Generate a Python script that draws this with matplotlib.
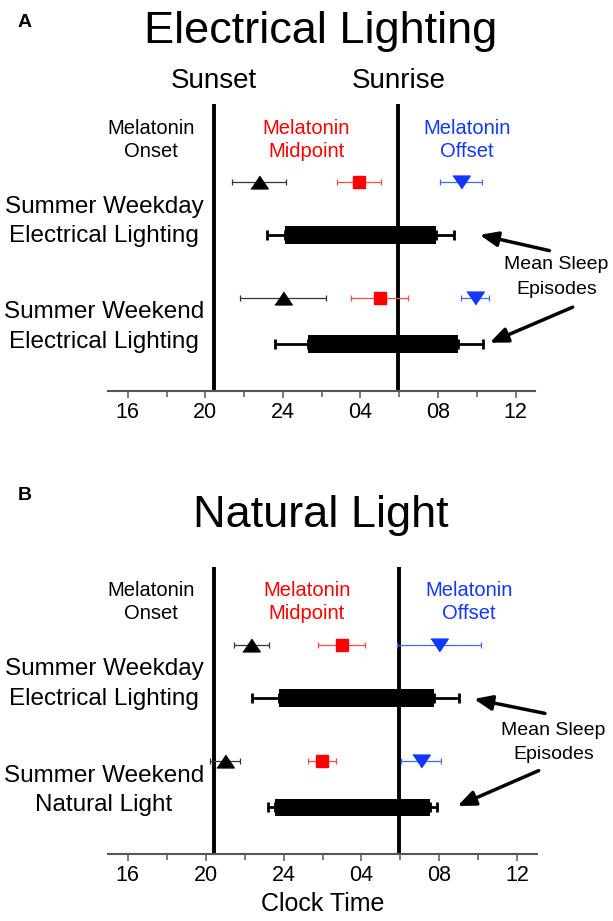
import numpy as np
import matplotlib
matplotlib.use("Agg")
import matplotlib.pyplot as plt
from matplotlib.transforms import blended_transform_factory

plt.rcParams['font.family'] = ['Liberation Sans', 'DejaVu Sans']

# clock hours, 24 = midnight, 28 = 04:00 ...
sunset = 20.45
sunrise = 29.95

tick_hours = [16, 20, 24, 28, 32, 36]
tick_labels = ['16', '20', '24', '04', '08', '12']

# panel A: electrical lighting (weekday, weekend)
onset_A = [22.76, 24.01]
onset_err_A = [1.40, 2.20]
mid_A = [27.93, 28.99]
mid_err_A = [1.13, 1.47]
offset_A = [33.17, 33.89]
offset_err_A = [1.09, 0.72]
sleep_on_A = [24.13, 25.30]
sleep_on_err_A = [0.94, 1.73]
sleep_off_A = [31.92, 33.05]
sleep_off_err_A = [0.90, 1.27]
rows_A = ['Summer Weekday\nElectrical Lighting', 'Summer Weekend\nElectrical Lighting']

# panel B: natural light
onset_B = [22.33, 20.98]
onset_err_B = [0.90, 0.77]
mid_B = [26.98, 25.97]
mid_err_B = [1.20, 0.74]
offset_B = [31.98, 31.06]
offset_err_B = [2.18, 1.04]
sleep_on_B = [23.76, 23.57]
sleep_on_err_B = [1.40, 0.38]
sleep_off_B = [31.70, 31.52]
sleep_off_err_B = [1.30, 0.38]
rows_B = ['Summer Weekday\nElectrical Lighting', 'Summer Weekend\nNatural Light']

# layout (axes fraction)
marker_y = [0.727, 0.323]
bar_y = [0.543, 0.163]
label_y = [0.592, 0.223]

up_tri = [(-1, -0.74), (1, -0.74), (0, 0.74)]
down_tri = [(-1, 0.74), (1, 0.74), (0, -0.74)]


def panel(ax, onset, onset_err, mid, mid_err, offset, offset_err,
          s_on, s_on_err, s_off, s_off_err, rows, arrows, note_xy, note_ls):
    ax.set_xlim(15, 37)
    ax.set_ylim(0, 1)
    for s in ['top', 'left', 'right']:
        ax.spines[s].set_visible(False)
    ax.spines['bottom'].set_color('#555555')
    ax.spines['bottom'].set_linewidth(1.5)
    ax.set_yticks([])
    ax.set_xticks(tick_hours)
    ax.set_xticklabels(tick_labels, fontsize=15.5)
    ax.set_xticks(np.arange(18, 37, 4), minor=True)
    ax.tick_params(axis='x', which='major', length=5, width=1.1, color='#555555', pad=3)
    ax.tick_params(axis='x', which='minor', length=4, width=1.1, color='#555555')

    ax.axvline(sunset, color='black', lw=2.8, zorder=1)
    ax.axvline(sunrise, color='black', lw=2.8, zorder=1)

    ax.errorbar(onset, marker_y, xerr=onset_err, fmt='none', ecolor='#333333',
                elinewidth=0.9, capsize=2.4, capthick=0.9, zorder=3)
    ax.plot(onset, marker_y, ls='none', marker=up_tri, ms=12.5, color='black', zorder=4)
    ax.errorbar(mid, marker_y, xerr=mid_err, fmt='none', ecolor='#ff4a4a',
                elinewidth=0.9, capsize=2.4, capthick=0.9, zorder=3)
    ax.plot(mid, marker_y, ls='none', marker='s', ms=8.6, color='#ff0000', zorder=4)
    ax.errorbar(offset, marker_y, xerr=offset_err, fmt='none', ecolor='#3f6bff',
                elinewidth=0.9, capsize=2.4, capthick=0.9, zorder=3)
    ax.plot(offset, marker_y, ls='none', marker=down_tri, ms=12.5, color='#1238ff', zorder=4)

    s_on = np.array(s_on)
    s_off = np.array(s_off)
    ax.errorbar(s_on, bar_y, xerr=[s_on_err, np.zeros(2)], fmt='none', ecolor='black',
                elinewidth=2, capsize=3.4, capthick=2, zorder=2)
    ax.errorbar(s_off, bar_y, xerr=[np.zeros(2), s_off_err], fmt='none', ecolor='black',
                elinewidth=2, capsize=3.4, capthick=2, zorder=2)
    ax.barh(bar_y, s_off - s_on, left=s_on, height=0.061, color='black', zorder=3)

    for y, txt in zip(label_y, rows):
        ax.text(14.78, y, txt, ha='center', va='center', fontsize=17.5, linespacing=1.42)

    ax.text(17.2, 0.876, 'Melatonin\nOnset', ha='center', va='center', fontsize=14.5,
            linespacing=1.26, color='black')
    ax.text(25.2, 0.876, 'Melatonin\nMidpoint', ha='center', va='center', fontsize=14.5,
            linespacing=1.26, color='#ff0000')
    ax.text(33.5, 0.876, 'Melatonin\nOffset', ha='center', va='center', fontsize=14.5,
            linespacing=1.26, color='#1238ff')

    ax.text(note_xy[0], note_xy[1], 'Mean Sleep\nEpisodes', ha='center', va='center',
            fontsize=14, linespacing=note_ls)
    for tail, tip in arrows:
        ax.annotate('', xy=tip, xytext=tail, annotation_clip=False,
                    arrowprops=dict(arrowstyle='-|>,head_length=0.6,head_width=0.25',
                                    mutation_scale=18, lw=2.5, color='black',
                                    shrinkA=0, shrinkB=0))


fig = plt.figure(figsize=(6.13, 9.21), dpi=100)
axA = fig.add_axes([0.1767, 0.5755, 0.6961, 0.3116])
axB = fig.add_axes([0.1767, 0.0724, 0.6989, 0.3123])

panel(axA, onset_A, onset_err_A, mid_A, mid_err_A, offset_A, offset_err_A,
      sleep_on_A, sleep_on_err_A, sleep_off_A, sleep_off_err_A, rows_A,
      [((37.74, 0.489), (34.15, 0.544)), ((38.94, 0.292), (34.66, 0.168))],
      (38.1, 0.397), 1.62)
panel(axB, onset_B, onset_err_B, mid_B, mid_err_B, offset_B, offset_err_B,
      sleep_on_B, sleep_on_err_B, sleep_off_B, sleep_off_err_B, rows_B,
      [((37.42, 0.490), (33.78, 0.540)), ((37.10, 0.291), (32.93, 0.168))],
      (37.85, 0.389), 1.48)

trA = blended_transform_factory(axA.transData, axA.transAxes)
axA.text(sunset, 1.056, 'Sunset', transform=trA, ha='center', va='baseline', fontsize=20)
axA.text(sunrise, 1.056, 'Sunrise', transform=trA, ha='center', va='baseline', fontsize=20)

axB.set_xlabel('Clock Time', fontsize=18, labelpad=4)

fig.text(0.523, 1 - 43.3 / 921, 'Electrical Lighting', ha='center', va='baseline', fontsize=32.5)
fig.text(0.523, 1 - 527 / 921, 'Natural Light', ha='center', va='baseline', fontsize=32.5)
fig.text(0.029, 1 - 27 / 921, 'A', ha='left', va='baseline', fontsize=14, fontweight='bold')
fig.text(0.029, 1 - 500 / 921, 'B', ha='left', va='baseline', fontsize=14, fontweight='bold')

fig.savefig('out.png', dpi=100)
